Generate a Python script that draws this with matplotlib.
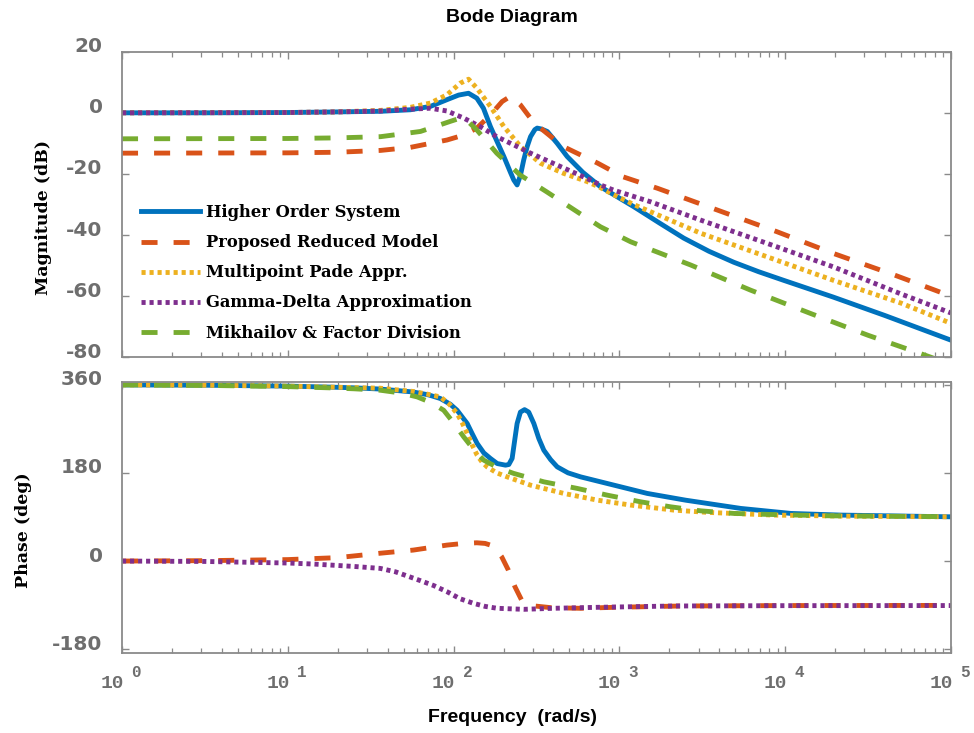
import numpy as np
import matplotlib
matplotlib.use("Agg")
import matplotlib.pyplot as plt
from matplotlib import transforms
from matplotlib.ticker import LogLocator, NullFormatter

plt.rcParams["axes.unicode_minus"] = False

# values; frequency given as log10(rad/s)
hos_mag_lw = [0, 0.5, 1.0, 1.3, 1.56, 1.74, 1.86, 1.96, 2.03, 2.09, 2.14, 2.18, 2.222, 2.263, 2.303,
              2.343, 2.363, 2.383, 2.403, 2.423, 2.444, 2.464, 2.49, 2.504, 2.53, 2.565, 2.625, 2.685,
              2.78, 2.886, 3.086, 3.24, 3.388, 3.54, 3.69, 3.84, 3.99, 4.29, 4.6, 5.0]
hos_mag_db = [0, 0, 0.1, 0.3, 0.5, 1.0, 2.1, 4.3, 5.8, 6.4, 4.8, 1.5, -4.5, -9.5, -14.3,
              -19.5, -22, -23.6, -20.5, -15.4, -11, -7.8, -5.5, -5.0, -5.3, -6.1, -10, -14.3,
              -19.5, -24.2, -30.7, -36.0, -41.0, -45.3, -48.9, -52.0, -54.8, -60.3, -66.3, -74.4]

prm_mag_lw = [0, 1.0, 1.3, 1.56, 1.74, 1.96, 2.06, 2.14, 2.222, 2.293, 2.343, 2.403, 2.46, 2.524,
              2.66, 2.87, 3.02, 3.23, 3.59, 3.95, 4.29, 4.66, 5.0]
prm_mag_db = [-13.2, -13.1, -12.9, -12.3, -11.3, -8.9, -7.3, -5.0, -0.7, 3.7, 5.4, 2.6, -1.5, -5.0,
              -11, -16.5, -20.9, -24.7, -31.8, -38.9, -46, -53.1, -60]

mpa_mag_lw = [0, 1.0, 1.3, 1.56, 1.74, 1.86, 1.96, 2.04, 2.09, 2.14, 2.222, 2.303, 2.403, 2.524,
              2.663, 2.806, 2.886, 2.965, 3.086, 3.49, 3.89, 4.29, 4.7, 5.0]
mpa_mag_db = [0, 0.1, 0.3, 0.8, 1.8, 3.2, 5.9, 9.7, 11.0, 8.1, 2.1, -4.5, -11, -16.5,
              -19.8, -22.5, -24.5, -26.8, -30.0, -39.4, -47.1, -54.8, -62.3, -68.9]

gda_mag_lw = [0, 1.0, 1.3, 1.56, 1.74, 1.86, 1.96, 2.06, 2.16, 2.26, 2.363, 2.464, 2.6, 2.765,
              2.886, 2.965, 3.187, 3.49, 3.89, 4.29, 4.7, 5.0]
gda_mag_db = [0, 0.1, 0.3, 0.6, 1.2, 1.5, 0.6, -1.7, -4.5, -7.8, -10.5, -13.2, -16.5, -20.5,
              -23.6, -25.3, -29.1, -35.1, -42.7, -50.4, -59.3, -65.5]

mfd_mag_lw = [0, 1.0, 1.3, 1.56, 1.8, 1.98, 2.06, 2.14, 2.26, 2.40, 2.56, 2.76, 2.886, 3.068,
              3.43, 3.79, 4.155, 4.5, 4.88, 5.0]
mfd_mag_db = [-8.5, -8.4, -8.2, -7.8, -6.1, -2.8, -1.4, -5.6, -13.2, -20.3, -25.8, -32.9, -37.3, -42.2,
              -49.8, -58, -65.7, -72.8, -80, -82.5]

hos_ph_lw = [0, 0.5, 1.0, 1.25, 1.4, 1.558, 1.757, 1.85, 1.92, 1.98, 2.021, 2.052, 2.082, 2.112,
             2.142, 2.182, 2.222, 2.263, 2.313, 2.333, 2.353, 2.37, 2.383, 2.403, 2.428, 2.453,
             2.484, 2.514, 2.544, 2.585, 2.625, 2.69, 2.766, 2.967, 3.168, 3.4, 3.732, 4.034, 4.336, 5.0]
hos_ph_deg = [359.5, 358.8, 357, 355, 353.5, 351, 345, 339, 331.7, 320, 307.8, 294, 280.7, 260,
              240, 220.8, 209.4, 199, 195.7, 197, 209.4, 250, 280.7, 304, 309, 304,
              280.7, 250, 226.3, 207, 192.2, 180, 171.8, 154.9, 138, 124.2, 107.4, 97.2, 93.8, 90.3]

prm_ph_lw = [0, 0.5, 1.0, 1.3, 1.558, 1.757, 1.96, 2.06, 2.14, 2.19, 2.222, 2.26, 2.29, 2.33, 2.37,
             2.41, 2.45, 2.49, 2.59, 2.766, 2.967, 3.37, 4.0, 5.0]
prm_ph_deg = [0, 0.8, 3, 7, 16, 22.4, 32.6, 36, 37.3, 36, 32.6, 22, 8.8, -18.3, -52.4,
              -79.5, -88, -91.7, -95.2, -96.4, -94.4, -91.7, -90.8, -90.5]

mpa_ph_lw = [0, 0.5, 1.0, 1.25, 1.4, 1.558, 1.757, 1.85, 1.92, 1.975, 2.021, 2.052, 2.082, 2.112,
             2.142, 2.172, 2.202, 2.26, 2.323, 2.464, 2.665, 2.867, 3.068, 3.327, 3.533, 3.931, 4.4, 5.0]
mpa_ph_deg = [359.5, 358.8, 357, 355, 354, 352.7, 346, 340, 335, 320, 301, 282, 260.3, 237,
              216, 202, 192.2, 180, 171.8, 154.9, 138, 124.3, 114.2, 104, 99.3, 93.8, 91.5, 90.3]

gda_ph_lw = [0, 0.5, 1.0, 1.15, 1.3, 1.4, 1.558, 1.65, 1.8, 1.88, 1.96, 2.04, 2.12, 2.19, 2.263,
             2.423, 2.6, 2.867, 3.33, 4.0, 5.0]
gda_ph_deg = [0, -0.8, -4, -6, -9, -11, -15, -22, -40, -50, -62.5, -77, -86.3, -92.5, -96.4,
              -98.5, -96.4, -94.4, -91.7, -91, -90.8]

mfd_ph_lw = [0, 0.5, 1.0, 1.25, 1.4, 1.558, 1.68, 1.78, 1.86, 1.94, 2.0, 2.061, 2.12, 2.182, 2.27,
             2.363, 2.544, 2.746, 2.927, 3.128, 3.309, 3.49, 3.69, 3.895, 4.275, 5.0]
mfd_ph_deg = [359.5, 358.5, 356, 353.5, 351.5, 348.6, 343, 335, 324, 307.8, 282, 253.4, 228, 205.9, 190,
              178.8, 161.7, 148.2, 134.5, 120.9, 110.7, 102.5, 97.2, 95.2, 92.3, 90.5]

labels = ["Higher Order System", "Proposed Reduced Model", "Multipoint Pade Appr.",
          "Gamma-Delta Approximation", "Mikhailov & Factor Division"]
colors = ["#0072BD", "#D95319", "#EDB120", "#7E2F8E", "#77AC30"]
styles = ["-", (0, (3.3, 3.3)), (0, (0.85, 0.8)), (0, (0.85, 0.8)), (0, (3.3, 3.3))]

mag_series = [(hos_mag_lw, hos_mag_db), (prm_mag_lw, prm_mag_db), (mpa_mag_lw, mpa_mag_db),
              (gda_mag_lw, gda_mag_db), (mfd_mag_lw, mfd_mag_db)]
ph_series = [(hos_ph_lw, hos_ph_deg), (prm_ph_lw, prm_ph_deg), (mpa_ph_lw, mpa_ph_deg),
             (gda_ph_lw, gda_ph_deg), (mfd_ph_lw, mfd_ph_deg)]

mag_ticks = [-80, -60, -40, -20, 0, 20]
ph_ticks = [-180, 0, 180, 360]
decades = [0, 1, 2, 3, 4, 5]

GREY = "#6e6e6e"
SPINE = "#8a8a8a"
LW = 3.5

fig = plt.figure(figsize=(9.74, 7.33), dpi=100)
W, H = 974, 733
ax1 = fig.add_axes([122 / W, 1 - 357.3 / H, 829 / W, 305.6 / H])
ax2 = fig.add_axes([122 / W, 1 - 652.7 / H, 829 / W, 271.0 / H])

for (lw_, v), c, ls, lab in zip(mag_series, colors, styles, labels):
    ax1.plot(10 ** np.array(lw_), v, color=c, linestyle=ls, linewidth=LW, label=lab)
for (lw_, v), c, ls in zip(ph_series, colors, styles):
    ax2.plot(10 ** np.array(lw_), v, color=c, linestyle=ls, linewidth=LW)

ax1.set_ylim(-80, 20)
ax2.set_ylim(-187, 366)
ax1.set_yticks(mag_ticks)
ax2.set_yticks(ph_ticks)

up = transforms.ScaledTranslation(0, 7 / 100, fig.dpi_scale_trans)
for ax in (ax1, ax2):
    ax.set_xscale("log")
    ax.set_xlim(1, 1e5)
    ax.xaxis.set_major_locator(LogLocator(base=10, numticks=10))
    ax.xaxis.set_minor_locator(LogLocator(base=10, subs=np.arange(2, 10), numticks=10))
    ax.xaxis.set_major_formatter(NullFormatter())
    ax.xaxis.set_minor_formatter(NullFormatter())
    for s in ax.spines.values():
        s.set_color(SPINE)
        s.set_linewidth(1.3)
    ax.tick_params(which="both", direction="in", top=True, right=True, colors=SPINE)
    ax.tick_params(which="major", length=5, width=1.0)
    ax.tick_params(which="minor", length=3.5, width=0.9)
    ax.tick_params(axis="y", labelcolor=GREY, labelsize=14.5, pad=14)
    for t in ax.get_yticklabels():
        t.set_fontfamily("DejaVu Sans")
        t.set_fontweight("bold")
        t.set_transform(t.get_transform() + up)

# x tick labels drawn as "10" plus a raised exponent
tr = transforms.blended_transform_factory(ax2.transData, ax2.transAxes)
for d in decades:
    base = transforms.offset_copy(tr, fig=fig, x=2, y=-31, units="dots")
    ax2.text(10 ** d, 0, "10", transform=base, ha="right", va="center", color=GREY,
             fontsize=14, fontweight="bold", family="Liberation Mono")
    sup = transforms.offset_copy(tr, fig=fig, x=9, y=-20, units="dots")
    ax2.text(10 ** d, 0, str(d), transform=sup, ha="left", va="center", color=GREY,
             fontsize=11.5, fontweight="bold", family="Liberation Mono")

ax1.set_ylabel("Magnitude (dB)", fontsize=12.5, fontweight="bold", family="DejaVu Serif")
ax2.set_ylabel("Phase (deg)", fontsize=12.5, fontweight="bold", family="DejaVu Serif")
ax1.yaxis.set_label_coords(-0.0844, 0.456)
ax2.yaxis.set_label_coords(-0.1086, 0.453)

fig.text(512 / W, 1 - 18 / H, "Bode Diagram", ha="center", va="center", fontsize=14,
         fontweight="bold", family="Liberation Sans")
fig.text(512 / W, 1 - 718 / H, "Frequency  (rad/s)", ha="center", va="center", fontsize=14,
         fontweight="bold", family="Liberation Sans")

ax1.legend(loc="lower left", bbox_to_anchor=(0.0147, 0.03), frameon=False, borderaxespad=0,
           handlelength=3.6, handletextpad=0.4, labelspacing=0.8,
           prop={"family": "DejaVu Serif", "weight": "bold", "size": 11.8})

fig.savefig("out.png", dpi=100)
